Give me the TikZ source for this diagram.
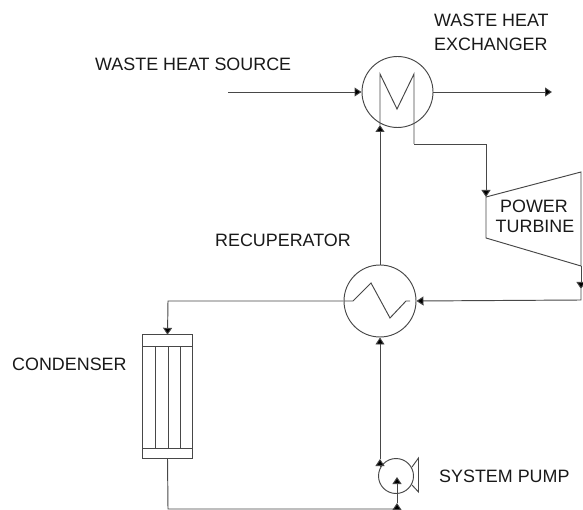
\documentclass[tikz,border=0pt]{standalone}
\usepackage{fontspec}
\setmainfont{Liberation Sans}
\usetikzlibrary{arrows.meta}
\begin{document}
\begin{tikzpicture}[x=1pt,y=-1pt,
  ln/.style={draw=black!72, line width=0.95pt},
  flow/.style={ln, -{Triangle[length=7pt,width=9pt,fill=black]}},
  lbl/.style={inner sep=0pt, text=black!90, font=\fontsize{17.9}{20}\selectfont},
  hx/.style={circle, ln, inner sep=0pt}]
\useasboundingbox (0,0) rectangle (583,510);
% equipment
\node[hx, minimum size=71pt] (whx) at (397.5,92) {};
\node[hx, minimum size=72pt] (rec) at (380,301) {};
\node[hx, minimum size=35pt] (pump) at (396,476) {};
\draw[ln] (486,197) -- (581,172) -- (581,266) -- (486,238) -- cycle;
\node[draw=none, minimum width=49pt, minimum height=123pt, inner sep=0pt] (cond) at (167.5,396.5) {};
\draw[ln] (cond.north west) rectangle (cond.south east);
\draw[ln] (143,346) -- (192,346) (143,448) -- (192,448);
\draw[ln] (155,346) -- (155,448) (168,346) -- (168,448) (180,346) -- (180,448);
\draw[ln] (412,467) -- (418.5,458) -- (418.5,492) -- (412,485);
% coordinates
\coordinate (src) at (228,92);
\coordinate (out) at (552,92);
\coordinate (whin) at (380,125);
\coordinate (turbin) at (486,197);
\coordinate (turbout) at (581,266);
\coordinate (tmid) at (581,289);
\coordinate (pstart) at (380,467);
\coordinate (pout) at (380,459);
\coordinate (pin) at (397,477);
\coordinate (pinb) at (397,503);
% connectors
\draw[flow] (src) -- (whx.west);
\draw[flow] (whx.east) -- (out);
\draw[flow] (rec.north) -- (whin);
\draw[ln] (whin) -- (380,74) -- (397,109) -- (414,74) -- (414,144);
\draw[flow] (414,144) -- (486,144) -- (turbin);
\draw[flow] (turbout) -- (tmid);
\draw[flow] (tmid) -- (581,300) -- (rec.east);
\draw[ln] (344,301) -- (353,301) -- (371,283) -- (390,318) -- (406,301) -- (410,301);
\draw[flow] (rec.west) -- (168,301) -- (cond.north);
\draw[flow] (cond.south) -- (168,509) -- (397,509) -- (pinb);
\draw[flow] (pinb) -- (pin);
\draw[flow] (pstart) -- (pout);
\draw[flow] (pout) -- (rec.south);
% labels
\node[lbl, anchor=base west] (t1) at (95,71) {WASTE HEAT SOURCE};
\node[lbl, anchor=base west] (t2) at (434,27) {WASTE HEAT};
\node[lbl, anchor=base west] (t3) at (434,51) {EXCHANGER};
\node[lbl, anchor=base] (t4) at (534,213) {POWER};
\node[lbl, anchor=base] (t5) at (535,233) {TURBINE};
\node[lbl, anchor=base west] (t6) at (215,247) {RECUPERATOR};
\node[lbl, anchor=base west] (t7) at (12,370) {CONDENSER};
\node[lbl, anchor=base west] (t8) at (439,482) {SYSTEM PUMP};
\end{tikzpicture}
\end{document}
